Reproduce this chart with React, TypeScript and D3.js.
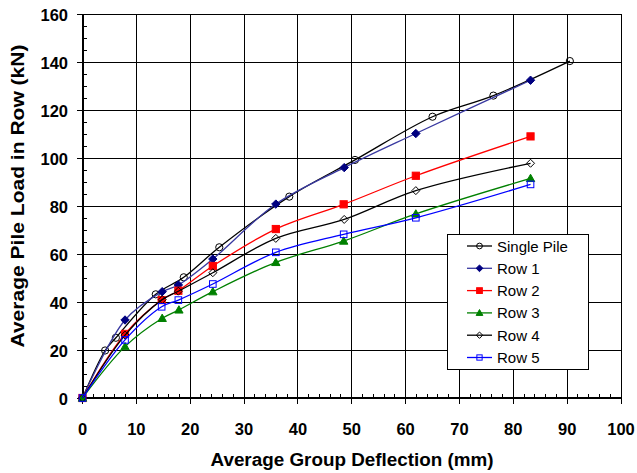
import React from 'react';
import * as d3 from 'd3';

const singlePile = [[0, 0], [4.2, 19.8], [6.2, 25.1], [13.6, 43.2], [18.8, 50.3], [25.4, 62.8], [38.4, 83.9], [50.6, 99.2], [65.0, 117.2], [76.3, 126], [90.5, 140.4]];
const row1 = [[0, 0], [7.9, 32.5], [14.8, 44.3], [17.8, 47.1], [24.2, 57.9], [35.9, 80.8], [48.6, 96], [61.9, 110.2], [83.2, 132.4]];
const row2 = [[0, 0], [7.9, 26.7], [14.7, 40.8], [17.8, 44.7], [24.2, 55], [35.9, 70.4], [48.5, 80.7], [61.9, 92.6], [83.2, 109]];
const row3 = [[0, 0], [7.9, 21.4], [14.8, 33.2], [17.9, 36.7], [24.2, 44.3], [35.9, 56.5], [48.5, 65.4], [61.9, 76.7], [83.2, 91.5]];
const row4 = [[0, 0], [7.9, 26.2], [14.8, 41], [17.8, 44.5], [24.2, 52.2], [35.9, 66.5], [48.6, 74.4], [61.9, 86.4], [83.2, 97.8]];
const row5 = [[0, 0], [7.9, 24.2], [14.7, 38], [17.8, 40.8], [24.2, 47.5], [35.9, 60.7], [48.5, 68.2], [61.9, 75.1], [83.2, 89]];

const xTicks = [0, 10, 20, 30, 40, 50, 60, 70, 80, 90, 100];
const yTicks = [0, 20, 40, 60, 80, 100, 120, 140, 160];

const series = [
  { name: 'Single Pile', data: singlePile, line: '#000000', marker: 'circle', fill: 'none', stroke: '#000000' },
  { name: 'Row 1', data: row1, line: '#3838a0', marker: 'diamond', fill: '#000080', stroke: '#000080' },
  { name: 'Row 2', data: row2, line: '#ff0000', marker: 'square', fill: '#ff0000', stroke: '#ff0000' },
  { name: 'Row 3', data: row3, line: '#008000', marker: 'triangle', fill: '#008000', stroke: '#008000' },
  { name: 'Row 4', data: row4, line: '#000000', marker: 'diamond', fill: 'none', stroke: '#000000' },
  { name: 'Row 5', data: row5, line: '#0000ff', marker: 'square', fill: 'none', stroke: '#0000ff' },
];

const W = 637;
const H = 473;
const left = 82.5;
const right = 621;
const top = 14;
const bottom = 398;

const x = d3.scaleLinear().domain([0, 100]).range([left, right]);
const y = d3.scaleLinear().domain([0, 160]).range([bottom, top]);

const line = d3.line<number[]>()
  .x(d => x(d[0]))
  .y(d => y(d[1]))
  .curve(d3.curveCatmullRom.alpha(0.5));

function Marker({ type, cx, cy, fill, stroke, small }: any) {
  const s = small ? 0.8 : 1;
  if (type === 'circle') {
    return <circle cx={cx} cy={cy} r={3.6 * s} fill={fill === 'none' ? '#fff' : fill} fillOpacity={fill === 'none' ? 0 : 1} stroke={stroke} strokeWidth={1} />;
  }
  if (type === 'diamond') {
    const r = (fill === 'none' ? 4 : 4.2) * s;
    return <path d={`M${cx},${cy - r}L${cx + r},${cy}L${cx},${cy + r}L${cx - r},${cy}Z`} fill={fill} stroke={stroke} strokeWidth={1} />;
  }
  if (type === 'square') {
    const r = (fill === 'none' ? 3.3 : 3.6) * s;
    return <rect x={cx - r} y={cy - r} width={2 * r} height={2 * r} fill={fill} stroke={stroke} strokeWidth={1} />;
  }
  const r = 4.2 * s;
  return <path d={`M${cx},${cy - r}L${cx + r},${cy + r * 0.75}L${cx - r},${cy + r * 0.75}Z`} fill={fill} stroke={stroke} strokeWidth={1} />;
}

export default function App() {
  const minorX = d3.range(0, 101, 2).filter(v => v % 10 !== 0);
  const minorY = d3.range(0, 161, 5).filter(v => v % 20 !== 0);
  const font = '"Liberation Sans", Arial, sans-serif';
  const legX = 447;
  const legY = 234;
  return (
    <svg width={W} height={H} style={{ position: 'absolute', left: 0, top: 0, background: '#fff' }} fontFamily={font}>
      <rect width={W} height={H} fill="#fff" />
      {/* grid */}
      <g stroke="#000" strokeWidth={1} shapeRendering="crispEdges">
        {xTicks.map(t => <line key={'gx' + t} x1={x(t)} x2={x(t)} y1={top} y2={bottom + 6} />)}
        {yTicks.map(t => <line key={'gy' + t} x1={left - 6} x2={right} y1={y(t)} y2={y(t)} />)}
        {minorX.map(t => <line key={'mx' + t} x1={x(t)} x2={x(t)} y1={bottom} y2={bottom - 4} />)}
        {minorY.map(t => <line key={'my' + t} x1={left} x2={left + 4} y1={y(t)} y2={y(t)} />)}
        <line x1={left} x2={left} y1={top} y2={bottom} strokeWidth={2} />
        <line x1={left} x2={right} y1={bottom} y2={bottom} strokeWidth={2} />
      </g>
      {/* tick labels */}
      <g fontSize={16.5} fontWeight="bold" fill="#000">
        {xTicks.map(t => <text key={'tx' + t} x={x(t)} y={435} textAnchor="middle">{t}</text>)}
        {yTicks.map(t => <text key={'ty' + t} x={68} y={y(t) + 6.5} textAnchor="end">{t}</text>)}
      </g>
      <text x={352} y={466} textAnchor="middle" fontSize={18} fontWeight="bold" textLength={283} lengthAdjust="spacingAndGlyphs">Average Group Deflection (mm)</text>
      <text transform={`translate(24,${196}) rotate(-90)`} textAnchor="middle" fontSize={18} fontWeight="bold" textLength={303} lengthAdjust="spacingAndGlyphs">Average Pile Load in Row (kN)</text>
      {/* series */}
      {series.map(s => (
        <g key={s.name}>
          <path d={line(s.data) || ''} fill="none" stroke={s.line} strokeWidth={1.3} />
          {s.data.map((d, i) => <Marker key={i} type={s.marker} cx={x(d[0])} cy={y(d[1])} fill={s.fill} stroke={s.stroke} />)}
        </g>
      ))}
      {/* legend */}
      <g>
        <rect x={legX} y={legY} width={141} height={135} fill="#fff" stroke="#000" strokeWidth={1} shapeRendering="crispEdges" />
        {series.map((s, i) => {
          const cy = legY + 12 + i * 22.3;
          return (
            <g key={'l' + s.name}>
              <line x1={467} x2={492} y1={cy} y2={cy} stroke={s.line} strokeWidth={1.3} />
              <Marker type={s.marker} cx={479.5} cy={cy} fill={s.fill} stroke={s.stroke} small />
              <text x={497} y={cy + 5.5} fontSize={15} fill="#000">{s.name}</text>
            </g>
          );
        })}
      </g>
    </svg>
  );
}
